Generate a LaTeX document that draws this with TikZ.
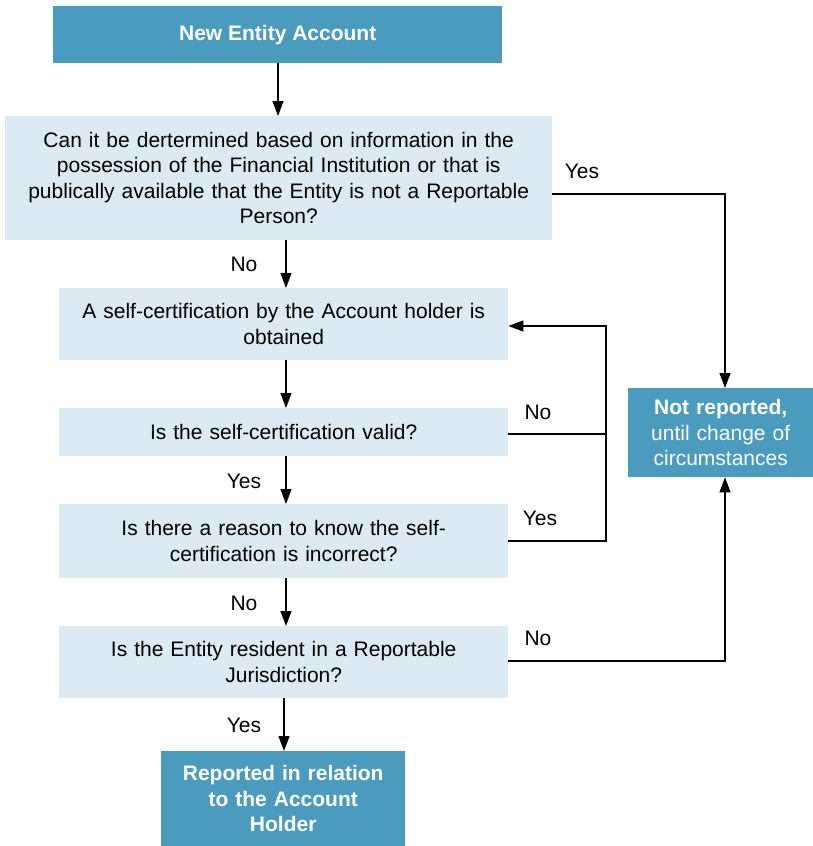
\documentclass[tikz,border=0pt]{standalone}
\usepackage{fontspec}
\setmainfont{Liberation Sans}
\usetikzlibrary{arrows.meta,positioning}
\definecolor{darkbox}{HTML}{4A9BBE}
\definecolor{lightbox}{HTML}{DCEAF3}
\begin{document}
\begin{tikzpicture}[x=1pt,y=-1pt,
  every node/.style={font=\fontsize{21}{25.5}\selectfont},
  dbox/.style={fill=darkbox,text=white,align=center,inner sep=0pt,anchor=north west},
  lbox/.style={fill=lightbox,text=black,align=center,inner sep=0pt,anchor=north west},
  conn/.style={line width=1.2pt,-{Triangle[length=15pt,width=11pt]}},
  plain/.style={line width=1.2pt},
  lbl/.style={inner sep=0pt}]
\useasboundingbox (0,0) rectangle (813,846);
\node[dbox,minimum width=449pt,minimum height=57pt] (top) at (53,6) {\bfseries New Entity Account};
\node[lbox,minimum width=547pt,minimum height=124pt,text width=540pt] (q1) at (5,116) {Can it be dertermined based on information in the\\possession of the Financial Institution or that is\\publically available that the Entity is not a Reportable\\Person?};
\node[lbox,minimum width=449pt,minimum height=72pt,text width=440pt] (b2) at (59,288) {A self-certification by the Account holder is\\obtained};
\node[lbox,minimum width=449pt,minimum height=48pt,text width=440pt] (b3) at (59,408) {Is the self-certification valid?};
\node[lbox,minimum width=449pt,minimum height=74pt,text width=440pt] (b4) at (59,504) {Is there a reason to know the self-\\certification is incorrect?};
\node[lbox,minimum width=449pt,minimum height=72pt,text width=440pt] (b5) at (59,626) {Is the Entity resident in a Reportable\\Jurisdiction?};
\node[dbox,minimum width=244pt,minimum height=95pt,text width=240pt] (bot) at (161,751) {\bfseries Reported in relation\\\bfseries to the Account\\\bfseries Holder};
\node[dbox,minimum width=185pt,minimum height=89pt,text width=183pt] (nr) at (628,388) {{\bfseries Not reported,}\\\mdseries until change of\\\mdseries circumstances};
% vertical arrows
\draw[conn] (top.south -| 278,0) -- (q1.north -| 278,0);
\draw[conn] (q1.south -| 286,0) -- (b2.north -| 286,0);
\draw[conn] (b2.south -| 286,0) -- (b3.north -| 286,0);
\draw[conn] (b3.south -| 286,0) -- (b4.north -| 286,0);
\draw[conn] (b4.south -| 286,0) -- (b5.north -| 286,0);
\draw[conn] (b5.south -| 284,0) -- (bot.north -| 284,0);
% labels on vertical
\node[lbl] (lno1) at (244,264) {No};
\node[lbl] (lyes1) at (244,481) {Yes};
\node[lbl] (lno2) at (244,603) {No};
\node[lbl] (lyes2) at (244,725) {Yes};
% right side
\coordinate (c1) at (725,194);
\draw[conn] (q1.east |- c1) -- (c1) -- (nr.north -| c1);
\node[lbl] (lyes3) at (582,171) {Yes};
\coordinate (c2) at (606,434);
\coordinate (c3) at (606,541);
\coordinate (c4) at (606,326);
\draw[plain] (b3.east |- c2) -- (c2);
\draw[conn] (b4.east |- c3) -- (c3) -- (c4) -- (b2.east |- c4);
\node[lbl] (lno3) at (538,412) {No};
\node[lbl] (lyes4) at (540,518) {Yes};
\coordinate (c5) at (725,661);
\draw[conn] (b5.east |- c5) -- (c5) -- (nr.south -| c5);
\node[lbl] (lno4) at (538,638) {No};
\end{tikzpicture}
\end{document}
